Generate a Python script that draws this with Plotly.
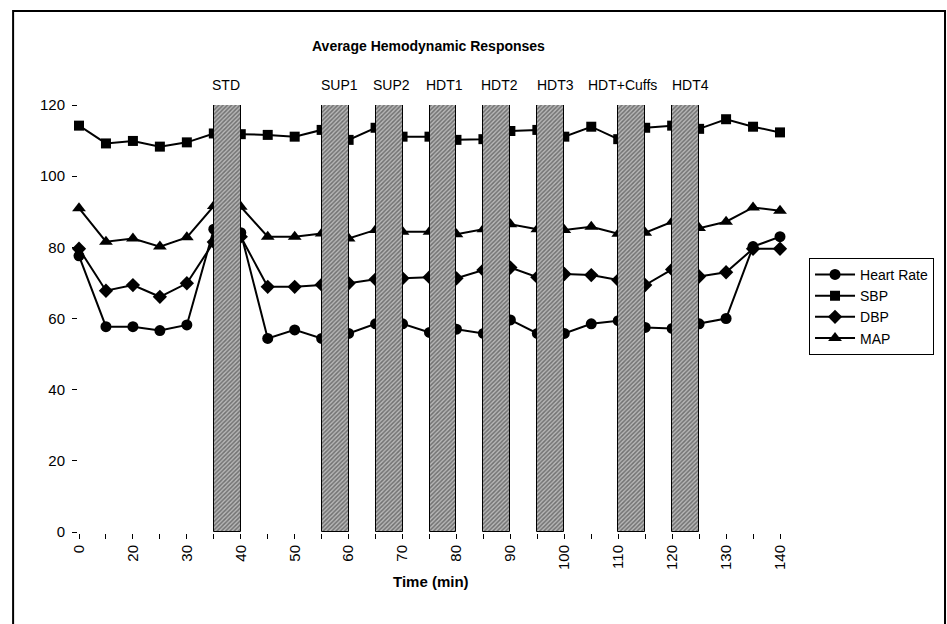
import plotly.graph_objects as go

# Sampling times (min); every other one is labelled on the axis
times = ["0", "15", "20", "25", "30", "35", "40", "45", "50", "55", "60", "65", "70",
         "75", "80", "85", "90", "95", "100", "105", "110", "115", "120", "125",
         "130", "135", "140"]

heart_rate = [77.6, 57.7, 57.7, 56.6, 58.2, 85.1, 84.1, 54.4, 56.8, 54.4, 55.8, 58.5,
              58.5, 56.1, 57.0, 55.8, 59.6, 55.8, 55.8, 58.5, 59.4, 57.5, 57.2, 58.5,
              60.0, 80.2, 83.0]
sbp = [114.2, 109.2, 109.9, 108.3, 109.5, 112.0, 111.8, 111.6, 111.1, 113.0, 110.2,
       113.6, 111.1, 111.1, 110.2, 110.4, 112.7, 113.0, 111.1, 113.9, 110.4, 113.6,
       114.2, 113.3, 116.0, 113.9, 112.3]
dbp = [79.6, 67.8, 69.4, 66.1, 69.9, 81.5, 83.0, 68.9, 68.9, 69.5, 69.9, 71.0, 71.3,
       71.6, 71.3, 73.6, 74.3, 71.6, 72.5, 72.2, 70.8, 69.4, 73.8, 71.8, 73.0, 79.6,
       79.6]
mean_ap = [91.0, 81.6, 82.5, 80.2, 82.8, 91.6, 91.4, 83.0, 83.0, 83.9, 82.5, 84.9, 84.4,
           84.4, 83.7, 85.1, 86.5, 85.1, 84.9, 85.8, 83.8, 84.1, 87.2, 85.4, 87.2, 91.2,
           90.3]

# Posture / intervention periods: name, start time, end time
phase_names = ["STD", "SUP1", "SUP2", "HDT1", "HDT2", "HDT3", "HDT+Cuffs", "HDT4"]
phase_start = ["35", "55", "65", "75", "85", "95", "110", "120"]
phase_end = ["40", "60", "70", "80", "90", "100", "115", "125"]
phase_label_shift = [-1, 4, 2, 2, 3, 5, -9, 5]

FONT = "Liberation Sans, Arial, sans-serif"

# Evenly spaced category positions along the time axis
xpos = list(range(len(times)))
tick_text = [t if i % 2 == 0 else "" for i, t in enumerate(times)]

series = [
    ("Heart Rate", heart_rate, "circle", 11),
    ("SBP", sbp, "square", 10),
    ("DBP", dbp, "diamond", 11),
    ("MAP", mean_ap, "triangle-up", 12),
]

fig = go.Figure()

for name, vals, sym, size in series:
    fig.add_trace(go.Scatter(
        x=xpos, y=vals, name=name, mode="lines+markers",
        line=dict(color="black", width=2),
        marker=dict(symbol=sym, size=size, color="black"),
        cliponaxis=False, legendgroup=name, zorder=0,
    ))

# Hatched period bars spanning the full value range, drawn over the lines
b_start = [times.index(s) for s in phase_start]
b_end = [times.index(e) for e in phase_end]
b_center = [(a + b) / 2 for a, b in zip(b_start, b_end)]
b_width = [b - a for a, b in zip(b_start, b_end)]
fig.add_trace(go.Bar(
    x=b_center, y=[120] * len(b_center), width=b_width, base=0,
    marker=dict(color="#8a8a8a", line=dict(color="black", width=1),
                pattern=dict(shape="/", size=3, solidity=0.5,
                             fgcolor="#2a2a2a", bgcolor="#b8b8b8")),
    showlegend=False, hoverinfo="skip", zorder=1,
))

annotations = []
for name, c, dx in zip(phase_names, b_center, phase_label_shift):
    annotations.append(dict(
        x=c, xref="x", y=1.047, yref="paper", text=name, showarrow=False,
        xshift=dx, font=dict(family=FONT, size=14, color="black"),
        xanchor="center", yanchor="middle"))

annotations.append(dict(
    x=0.498, xref="paper", y=1.138, yref="paper",
    text="<b>Average Hemodynamic Responses</b>", showarrow=False,
    font=dict(family=FONT, size=14, color="black"), xanchor="center", yanchor="middle"))
annotations.append(dict(
    x=0.502, xref="paper", y=-0.117, yref="paper", text="<b>Time (min)</b>",
    showarrow=False, font=dict(family=FONT, size=15, color="black"),
    xanchor="center", yanchor="middle"))

fig.update_layout(
    width=947, height=624, autosize=False,
    margin=dict(l=79, r=167, t=105, b=92),
    paper_bgcolor="white", plot_bgcolor="white",
    font=dict(family=FONT, size=14, color="black"),
    showlegend=True,
    legend=dict(x=1.0414, y=0.642, xanchor="left", yanchor="top",
                bordercolor="black", borderwidth=1, bgcolor="white",
                font=dict(family=FONT, size=14, color="black"),
                itemwidth=40, tracegroupgap=7, traceorder="normal"),
    annotations=annotations,
    shapes=[dict(type="rect", xref="paper", yref="paper",
                 x0=-0.094, x1=1.2354, y0=-0.30, y1=1.220,
                 line=dict(color="black", width=2), layer="below")],
    bargap=0,
)

fig.update_xaxes(
    range=[0, len(times) - 1], tickmode="array", tickvals=xpos, ticktext=tick_text,
    tickangle=-90, ticks="outside", ticklen=5, tickcolor="black",
    showline=True, linewidth=2, linecolor="black", mirror=True,
    showgrid=False, zeroline=False,
    tickfont=dict(family=FONT, size=15, color="black"),
)
fig.update_yaxes(
    range=[0, 120], tickmode="array", tickvals=[0, 20, 40, 60, 80, 100, 120],
    ticks="outside", ticklen=5, tickcolor="black", ticklabelstandoff=4,
    showline=True, linewidth=2, linecolor="black", mirror=True,
    showgrid=False, zeroline=False,
    tickfont=dict(family=FONT, size=15, color="black"),
)

fig.write_html("out.html")
